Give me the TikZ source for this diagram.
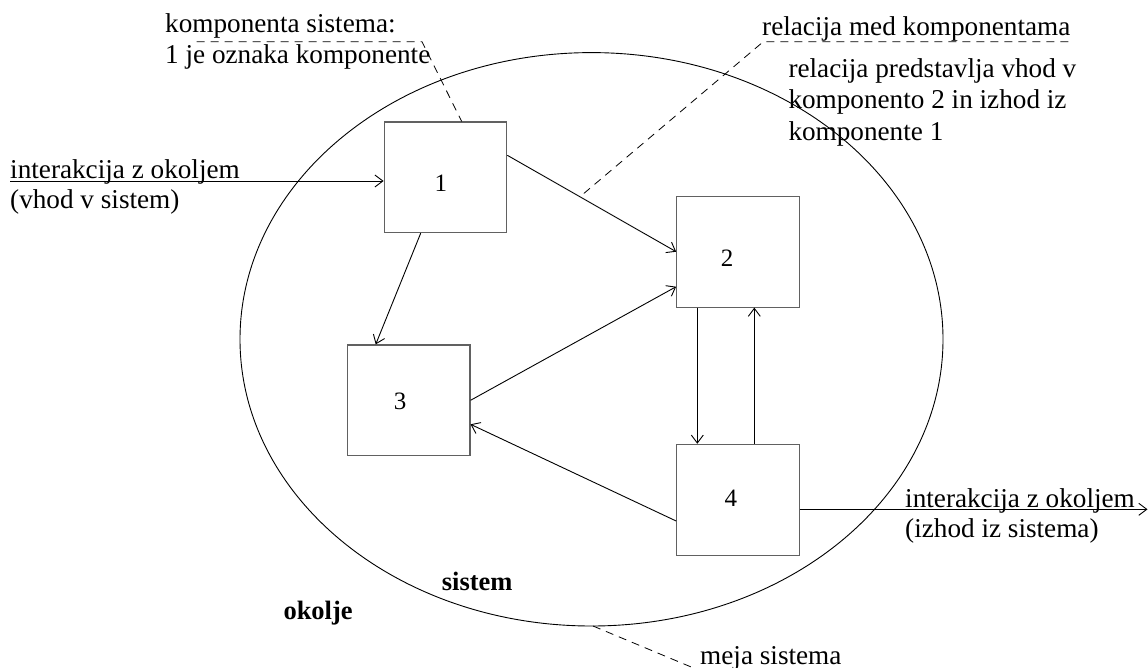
\documentclass[tikz,border=0pt]{standalone}
\usepackage{fontspec}
\setmainfont{Liberation Serif}
\usetikzlibrary{arrows.meta}

\begin{document}
\begin{tikzpicture}[x=1pt,y=-1pt,
  box/.style={draw=black!62, line width=1.1pt, minimum width=122.6pt,
    minimum height=110.7pt, inner sep=0pt},
  digit/.style={font=\fontsize{25}{29}\selectfont, inner sep=0pt},
  rel/.style={line width=0.9pt, -{Straight Barb[length=8pt,width=12pt]}},
  lead/.style={line width=0.8pt, dash pattern=on 8pt off 6pt},
  txt/.style={inner sep=0pt, align=left, font=\fontsize{27.2}{31.5}\selectfont},
  txtb/.style={txt, font=\fontsize{27.2}{30}\selectfont},
  boldtxt/.style={inner sep=0pt, font=\fontsize{26.5}{30}\selectfont\bfseries}]
\useasboundingbox (0,0) rectangle (1148,667);

% system boundary
\draw[line width=0.9pt] (591.5,339.3) ellipse [x radius=351.5, y radius=286.7];

% components
\node[box, label={[digit, xshift=-4.7pt, yshift=-5.7pt]center:1}] (k1) at (445.5,177.3) {};
\node[box, label={[digit, xshift=-10.8pt, yshift=-6.8pt]center:2}] (k2) at (738,251.7) {};
\node[box, label={[digit, xshift=-8.7pt, yshift=-1pt]center:3}] (k3) at (408.7,400.3) {};
\node[box, label={[digit, xshift=-7.2pt, yshift=1.9pt]center:4}] (k4) at (738,499.7) {};

% relations between components
\draw[rel] ([yshift=22pt]k1.east) -- coordinate[pos=0.43] (r12) (k2.west);
\draw[rel] ([xshift=-24.8pt]k1.south) -- ([xshift=-33pt]k3.north);
\draw[rel] (k3.east) -- ([yshift=-35pt]k2.west);
\draw[rel] ([yshift=-21.3pt]k4.west) -- ([yshift=-24pt]k3.east);
\draw[rel] ([xshift=-40.7pt]k2.south) -- ([xshift=-40.7pt]k4.north);
\draw[rel] ([xshift=16.3pt]k4.north) -- ([xshift=16.3pt]k2.south);

% interaction with the environment
\coordinate (vhod) at (10,181);
\coordinate (izhod) at (1147.5,509.3);
\draw[rel] (vhod) -- (vhod -| k1.west);
\draw[rel] ([yshift=-9.6pt]k4.east) -- (izhod);

% leader lines
\coordinate (l1a) at (196.7,41.7);
\coordinate (l1b) at (422,41.7);
\draw[lead] (l1a) -- (l1b) -- ([xshift=16.2pt]k1.north);
\coordinate (l2a) at (1068.3,41.7);
\coordinate (l2b) at (763.3,41.7);
\draw[lead] (l2a) -- (l2b) -- (r12);
\coordinate (l3a) at (593,626);
\coordinate (l3b) at (696,669);
\draw[lead] (l3a) -- (l3b);

% texts (base anchor of a multi-line node sits on its last line)
\node[txt, anchor=base west] (t1) at (165,63.5) {komponenta sistema:\\1 je oznaka komponente};
\node[txt, anchor=base west] (t2) at (762,35) {relacija med komponentama};
\node[txt, anchor=base west] (t3) at (788.3,140) {relacija predstavlja vhod v\\komponento 2 in izhod iz\\komponente 1};
\node[txtb, anchor=base west] (t4) at (10,208) {interakcija z okoljem\\(vhod v sistem)};
\node[txtb, anchor=base west] (t5) at (905,537) {interakcija z okoljem\\(izhod iz sistema)};
\node[boldtxt, anchor=base west] (t6) at (441.7,590.7) {sistem};
\node[boldtxt, anchor=base west] (t7) at (283.3,619.3) {okolje};
\node[txt, anchor=base west] (t8) at (700,664) {meja sistema};
\end{tikzpicture}
\end{document}
